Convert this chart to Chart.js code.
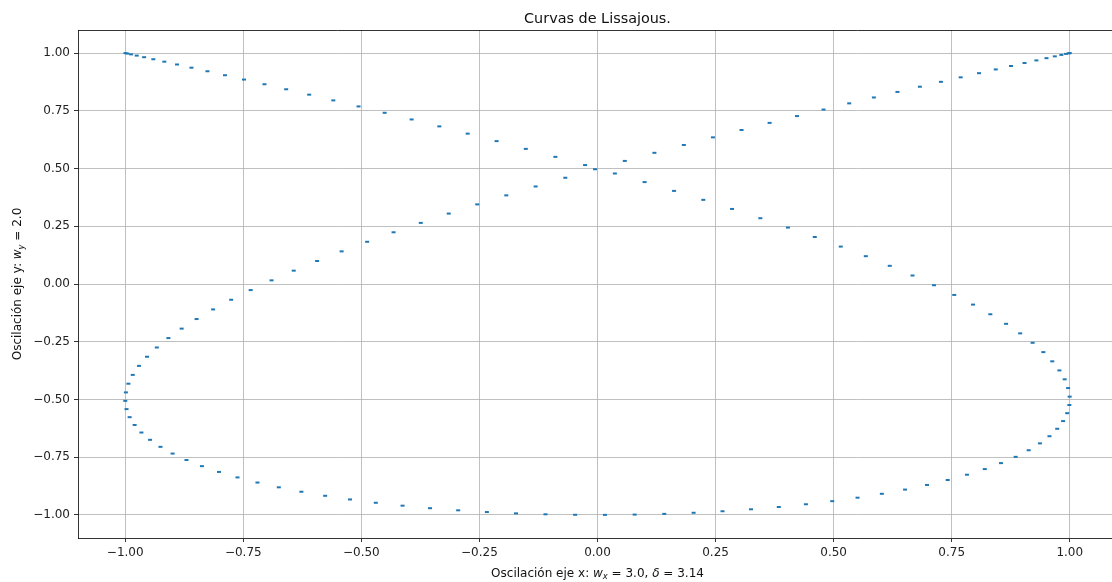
<!DOCTYPE html>
<html><head><meta charset="utf-8">
<script src="https://cdn.jsdelivr.net/npm/chart.js@4.4.0/dist/chart.umd.min.js"></script>
<style>
html,body{margin:0;padding:0;overflow:hidden;background:#fff;width:1112px;height:582px}
#wrap{position:absolute;left:0;top:0;width:1140px;height:582px}
</style>
</head><body><div id="wrap"><canvas id="c"></canvas></div>
<script>
const titleText = 'Curvas de Lissajous.';
const xLabelParts = [
  {t:'Oscilación eje x: '}, {t:'w', i:true}, {t:'x', i:true, sub:true},
  {t:' = 3.0, '}, {t:'δ', i:true}, {t:' = 3.14'}
];
const yLabelParts = [
  {t:'Oscilación eje y: '}, {t:'w', i:true}, {t:'y', i:true, sub:true}, {t:' = 2.0'}
];
const xTicks = [-1, -0.75, -0.5, -0.25, 0, 0.25, 0.5, 0.75, 1];
const yTicks = [-1, -0.75, -0.5, -0.25, 0, 0.25, 0.5, 0.75, 1];

const xValues = [
 1, .9980, .9921, .9822, .9683, .9507, .9293, .9042, .8755, .8433,
 .8078, .7690, .7272, .6826, .6351, .5852, .5330, .4786, .4224, .3644,
 .3050, .2444, .1828, .1205, .0578, -.0053, -.0682, -.1310, -.1932, -.2546,
 -.3150, -.3742, -.4318, -.4878, -.5418, -.5937, -.6432, -.6902, -.7344, -.7757,
 -.8139, -.8489, -.8805, -.9086, -.9331, -.9539, -.9709, -.9841, -.9933, -.9986,
 -.9999, -.9973, -.9907, -.9801, -.9657, -.9474, -.9254, -.8997, -.8703, -.8376,
 -.8015, -.7623, -.7200, -.6748, -.6270, -.5767, -.5241, -.4694, -.4128, -.3546,
 -.2950, -.2342, -.1725, -.1101, -.0473, .0158, .0787, .1414, .2035, .2647,
 .3250, .3839, .4413, .4970, .5506, .6021, .6512, .6977, .7415, .7823,
 .8200, .8544, .8854, .9130, .9368, .9570, .9734, .9859, .9945, .9991,
 .9998, .9965, .9892, .9780, .9629, .9440, .9213, .8950, .8651, .8318,
 .7952, .7554, .7126, .6670, .6188, .5681, .5151, .4601, .4032, .3448,
 .2849, .2240, .1621, .0997, .0368, -.0263, -.0892, -.1518, -.2137, -.2749,
 -.3349, -.3936, -.4507, -.5060, -.5594, -.6105, -.6592, -.7052, -.7485, -.7888,
 -.8259, -.8598, -.8903, -.9172, -.9405, -.9600, -.9757, -.9876, -.9955, -.9995
];
const yValues = [
 1, .9991, .9965, .9921, .9859, .9780, .9683, .9570, .9440, .9293,
 .9130, .8950, .8755, .8544, .8318, .8078, .7823, .7554, .7272, .6977,
 .6670, .6351, .6021, .5681, .5330, .4970, .4601, .4224, .3839, .3448,
 .3050, .2647, .2240, .1828, .1414, .0997, .0578, .0158, -.0263, -.0682,
 -.1101, -.1518, -.1932, -.2342, -.2749, -.3150, -.3546, -.3936, -.4318, -.4694,
 -.5060, -.5418, -.5767, -.6105, -.6432, -.6748, -.7052, -.7344, -.7623, -.7888,
 -.8139, -.8376, -.8598, -.8805, -.8997, -.9172, -.9331, -.9474, -.9600, -.9709,
 -.9801, -.9876, -.9933, -.9973, -.9995, -.9999, -.9986, -.9955, -.9907, -.9841,
 -.9757, -.9657, -.9539, -.9405, -.9254, -.9086, -.8903, -.8703, -.8489, -.8259,
 -.8015, -.7757, -.7485, -.7200, -.6902, -.6592, -.6270, -.5937, -.5594, -.5241,
 -.4878, -.4507, -.4128, -.3742, -.3349, -.2950, -.2546, -.2137, -.1725, -.1310,
 -.0892, -.0473, -.0053, .0368, .0787, .1205, .1621, .2035, .2444, .2849,
 .3250, .3644, .4032, .4413, .4786, .5151, .5506, .5852, .6188, .6512,
 .6826, .7126, .7415, .7690, .7952, .8200, .8433, .8651, .8854, .9042,
 .9213, .9368, .9507, .9629, .9734, .9822, .9892, .9945, .9980, .9998
];

const points = xValues.map((x, i) => ({x: x, y: yValues[i]}));
const FONT = '"DejaVu Sans", "Liberation Sans", sans-serif';
const fmt = v => (v < 0 ? '\u2212' : '') + Math.abs(v).toFixed(2);

function richWidth(ctx, parts, size) {
  let w = 0;
  parts.forEach(p => {
    ctx.font = (p.i ? 'italic ' : '') + (p.sub ? size * 0.7 : size) + 'px ' + FONT;
    w += ctx.measureText(p.t).width;
  });
  return w;
}
function drawRich(ctx, parts, size, cx, baseline) {
  const total = richWidth(ctx, parts, size);
  let x = cx - total / 2;
  parts.forEach(p => {
    ctx.font = (p.i ? 'italic ' : '') + (p.sub ? size * 0.7 : size) + 'px ' + FONT;
    ctx.fillText(p.t, x, baseline + (p.sub ? size * 0.22 : 0));
    x += ctx.measureText(p.t).width;
  });
}

const decor = {
  id: 'decor',
  afterDraw(chart) {
    const ctx = chart.ctx, a = chart.chartArea;
    ctx.save();
    ctx.strokeStyle = '#000';
    ctx.lineWidth = 0.8;
    ctx.beginPath();
    ctx.moveTo(a.left, Math.round(a.top) + 0.5);
    ctx.lineTo(a.right, Math.round(a.top) + 0.5);
    ctx.stroke();
    ctx.fillStyle = '#111';
    ctx.textAlign = 'center';
    ctx.textBaseline = 'alphabetic';
    ctx.font = '14.4px ' + FONT;
    ctx.fillText(titleText, 597.5, 23);
    ctx.textAlign = 'left';
    drawRich(ctx, xLabelParts, 12, 597.5, 576.5);
    ctx.translate(21, 284);
    ctx.rotate(-Math.PI / 2);
    drawRich(ctx, yLabelParts, 12, 0, 0);
    ctx.restore();
  }
};

const axisCommon = {
  type: 'linear',
  min: -1.1, max: 1.1,
  grid: {color: '#b0b0b0', lineWidth: 0.8, drawTicks: true, tickLength: 4, tickColor: '#000', tickWidth: 0.8},
  border: {display: true, color: '#000', width: 0.8},
  ticks: {color: '#222', font: {family: FONT, size: 12}, padding: 4, maxRotation: 0, autoSkip: false,
          callback: v => fmt(v)}
};

new Chart(document.getElementById('c'), {
  type: 'scatter',
  data: {datasets: [{
    data: points,
    showLine: false,
    pointStyle: 'line',
    pointRadius: 2,
    pointHoverRadius: 2,
    pointBorderWidth: 2,
    borderWidth: 2,
    borderColor: '#1f77b4',
    backgroundColor: '#1f77b4',
    pointBorderColor: '#1f77b4'
  }]},
  options: {
    responsive: true,
    maintainAspectRatio: false,
    animation: false,
    events: [],
    layout: {padding: {top: 30, right: 23, left: 0, bottom: 0}},
    plugins: {legend: {display: false}, tooltip: {enabled: false}, title: {display: false}},
    scales: {
      x: Object.assign({}, axisCommon, {
        position: 'bottom',
        afterBuildTicks: s => { s.ticks = xTicks.map(v => ({value: v})); },
        afterFit: s => { s.height = 44; }
      }),
      y: Object.assign({}, axisCommon, {
        position: 'left',
        afterBuildTicks: s => { s.ticks = yTicks.map(v => ({value: v})); },
        afterFit: s => { s.width = 78; }
      })
    }
  },
  plugins: [decor]
});
</script>
</body></html>
